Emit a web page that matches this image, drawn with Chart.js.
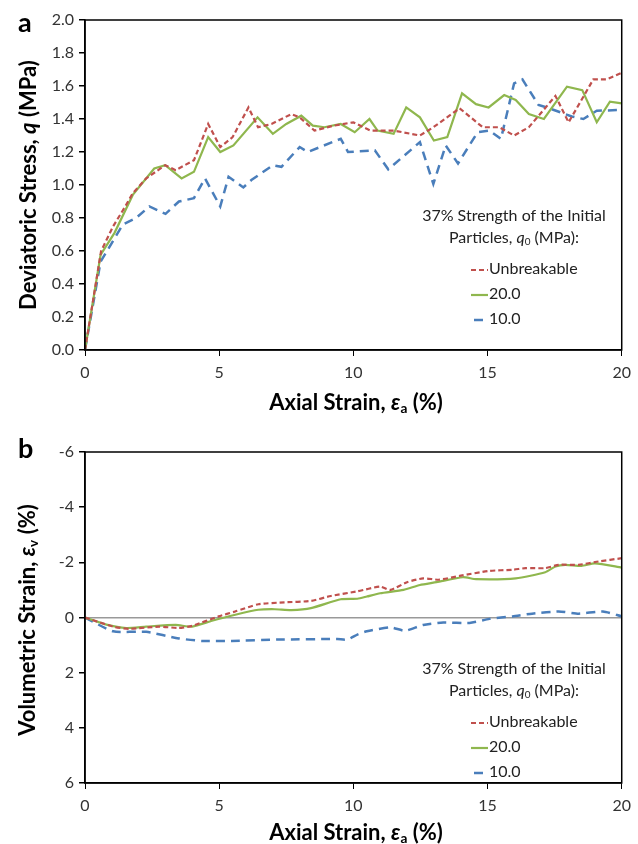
<!DOCTYPE html>
<html>
<head>
<meta charset="utf-8">
<script src="https://cdn.jsdelivr.net/npm/chart.js@4"></script>
<style>
  body { margin: 0; background: #fff; }
  #wrap { position: relative; width: 638px; height: 844px; font-family: Lato, "Open Sans", sans-serif; color: #000; }
  .box { position: absolute; left: 0; width: 638px; }
  .lbl { position: absolute; white-space: nowrap; }
  .letter { font-weight: bold; font-size: 27px; line-height: 1; }
  .xt { font-weight: bold; font-size: 22px; transform: translate(-50%, -50%); }
  .yt { font-weight: bold; font-size: 22px; transform: translate(-50%, -50%) rotate(-90deg); }
  .leg { font-size: 16px; color: #222; line-height: 1; }
  .leg .t { transform: translate(-50%, -50%); position: absolute; white-space: nowrap; }
  .leg .e { position: absolute; white-space: nowrap; transform: translateY(-50%); }
  .leg svg { vertical-align: middle; margin-right: 1px; }
  sub { font-size: 0.62em; vertical-align: -0.25em; }
</style>
</head>
<body>
<div id="wrap">
  <div class="box" style="top:0;height:420px"><canvas id="c1"></canvas></div>
  <div class="box" style="top:420px;height:424px"><canvas id="c2"></canvas></div>

  <div class="lbl letter" style="left:18px;top:8px">a</div>
  <div class="lbl letter" style="left:18px;top:434px">b</div>

  <div class="lbl yt" style="left:27px;top:185px">Deviatoric Stress, <i>q</i> (MPa)</div>
  <div class="lbl xt" style="left:356px;top:402px">Axial Strain, <i>ε</i><sub>a</sub> (%)</div>
  <div class="lbl yt" style="left:27px;top:620px">Volumetric Strain, <i>ε</i><sub>v</sub> (%)</div>
  <div class="lbl xt" style="left:356px;top:832px">Axial Strain, <i>ε</i><sub>a</sub> (%)</div>

  <div class="leg" id="leg1"></div>
  <div class="leg" id="leg2"></div>
</div>
<script>
// axial strain (%) and deviatoric stress q (MPa), panel a
const unbX = [0,0.6,1.05,1.5,1.78,2.28,2.99,3.38,4.06,4.59,5.04,5.5,6.09,6.45,6.95,7.69,8.0,8.55,9.28,10.0,10.64,11.5,12.48,12.98,13.96,14.82,15.44,15.99,16.54,17.53,18.02,18.5,18.94,19.43,20.0];
const unbQ = [0,0.6,0.75,0.87,0.95,1.04,1.12,1.09,1.15,1.37,1.23,1.29,1.47,1.35,1.37,1.43,1.41,1.33,1.36,1.38,1.33,1.33,1.30,1.35,1.465,1.35,1.35,1.30,1.35,1.54,1.38,1.515,1.64,1.64,1.68];

const q20X = [0,0.58,1.1,1.78,2.58,2.99,3.6,4.06,4.59,5.04,5.53,6.43,7.0,7.5,8.06,8.49,8.92,9.53,10.05,10.6,10.9,11.5,11.97,12.48,13.0,13.5,14.05,14.57,15.04,15.62,16.05,16.54,17.1,17.96,18.53,19.07,19.56,20.0];
const q20Q = [0,0.576,0.71,0.94,1.10,1.12,1.04,1.08,1.29,1.20,1.24,1.41,1.31,1.37,1.42,1.36,1.35,1.37,1.32,1.40,1.33,1.31,1.47,1.41,1.27,1.29,1.555,1.49,1.47,1.545,1.515,1.43,1.40,1.596,1.575,1.38,1.505,1.495];

const q10X = [0,0.58,1.41,1.9,2.4,3.0,3.5,4.06,4.47,5.04,5.35,5.9,6.2,7.0,7.32,8.0,8.3,9.53,9.8,10.8,11.3,12.48,12.98,13.44,13.9,14.63,15.07,15.5,15.99,16.3,16.9,17.3,18.14,18.57,19.07,20.0];
const q10Q = [0,0.535,0.76,0.80,0.87,0.825,0.90,0.92,1.04,0.87,1.05,0.985,1.03,1.12,1.11,1.23,1.20,1.28,1.20,1.21,1.095,1.26,1.006,1.24,1.13,1.32,1.33,1.28,1.616,1.64,1.485,1.465,1.415,1.40,1.45,1.455];

// volumetric strain (%), panel b
const unbVX = [0,1.05,1.66,2.77,3.5,4.0,4.98,5.6,6.46,7.44,8.42,9.16,10.15,11.0,11.38,12.0,12.6,13.2,13.96,15.07,15.93,16.42,17.15,17.65,18.4,19.13,20.0];
const unbEv = [0,0.33,0.41,0.33,0.38,0.3,-0.04,-0.22,-0.48,-0.55,-0.6,-0.78,-0.95,-1.12,-1.0,-1.28,-1.42,-1.37,-1.51,-1.69,-1.73,-1.79,-1.79,-1.91,-1.91,-2.03,-2.15];

const v20X = [0,0.8,1.54,2.28,3.38,4.0,4.73,5.6,6.46,7.07,7.69,8.42,9.53,10.15,10.5,11.0,11.87,12.48,13.1,14.08,14.57,16.05,17.15,17.53,17.9,18.5,19.0,20.0];
const v20Ev = [0,0.26,0.38,0.33,0.27,0.33,0.12,-0.1,-0.28,-0.3,-0.27,-0.34,-0.66,-0.68,-0.76,-0.88,-1.0,-1.18,-1.28,-1.46,-1.39,-1.42,-1.64,-1.85,-1.91,-1.87,-1.96,-1.81];

const v10X = [0,1.05,2.28,3.5,4.37,5.47,7.2,9.4,9.78,10.15,10.5,11.38,11.93,12.6,13.35,14.33,15.07,15.93,16.66,17.65,18.4,19.3,20.0];
const v10Ev = [0,0.5,0.52,0.76,0.85,0.85,0.8,0.78,0.8,0.62,0.5,0.36,0.48,0.27,0.18,0.2,0.05,-0.04,-0.14,-0.22,-0.14,-0.22,-0.04];

const seriesNames = ['Unbreakable', '20.0', '10.0'];
const xTicks = [0, 5, 10, 15, 20];
const qTicks = [0, 0.2, 0.4, 0.6, 0.8, 1.0, 1.2, 1.4, 1.6, 1.8, 2.0];
const evTicks = [-6, -4, -2, 0, 2, 4, 6];

const colors = ['#c0504d', '#8fb74e', '#4a7ebb'];
const dashes = [[5, 3], [], [9, 6]];
const widths = [2.2, 2.2, 2.5];
const FONT = 'Lato, "Open Sans", sans-serif';

const pts = (xs, ys) => xs.map((x, i) => ({ x: x, y: ys[i] }));

const mkSet = (i, xs, ys, tension) => ({
  label: seriesNames[i],
  data: pts(xs, ys),
  showLine: true,
  borderColor: colors[i],
  backgroundColor: colors[i],
  borderDash: dashes[i],
  borderWidth: widths[i],
  pointRadius: 0,
  tension: tension
});

// black frame round the plot area
const frame = {
  id: 'frame',
  afterDraw(chart) {
    const a = chart.chartArea, c = chart.ctx;
    c.save();
    c.strokeStyle = '#000';
    c.lineWidth = 1.5;
    c.strokeRect(a.left, a.top, a.right - a.left, a.bottom - a.top);
    c.restore();
  }
};

const makeChart = (id, sets, yTicks, yFmt, reverse, padTop, xH, zeroLine) => new Chart(document.getElementById(id), {
  type: 'scatter',
  data: { datasets: sets },
  options: {
    responsive: true,
    maintainAspectRatio: false,
    animation: false,
    layout: { padding: { top: padTop, right: 11, left: 0, bottom: 0 } },
    plugins: { legend: { display: false }, tooltip: { enabled: false } },
    scales: {
      x: {
        type: 'linear', min: 0, max: 20,
        afterBuildTicks: s => { s.ticks = xTicks.map(v => ({ value: v })); },
        afterFit: s => { s.height = xH; },
        grid: { drawOnChartArea: false, tickLength: 6, tickColor: '#000' },
        border: { color: '#000', width: 1.5 },
        ticks: { color: '#333', font: { family: FONT, size: 16 }, padding: 7, maxRotation: 0 }
      },
      y: {
        type: 'linear', min: yTicks[0], max: yTicks[yTicks.length - 1], reverse: reverse,
        afterBuildTicks: s => { s.ticks = yTicks.map(v => ({ value: v })); },
        afterFit: s => { s.width = 85; },
        grid: {
          drawOnChartArea: zeroLine,
          color: c => (c.tick && c.tick.value === 0) ? '#999' : 'rgba(0,0,0,0)',
          lineWidth: 1.5,
          tickLength: 6, tickColor: '#000'
        },
        border: { color: '#000', width: 1.5 },
        ticks: { color: '#333', font: { family: FONT, size: 16 }, padding: 5, callback: yFmt }
      }
    }
  },
  plugins: [frame]
});

makeChart('c1', [
  mkSet(0, unbX, unbQ, 0),
  mkSet(1, q20X, q20Q, 0),
  mkSet(2, q10X, q10Q, 0)
], qTicks, v => v.toFixed(1), false, 20, 70, false);

makeChart('c2', [
  mkSet(0, unbVX, unbEv, 0.2),
  mkSet(1, v20X, v20Ev, 0.2),
  mkSet(2, v10X, v10Ev, 0.2)
], evTicks, v => String(v), true, 32, 61, true);

// legends inside the plot areas
const buildLegend = (el, top) => {
  let h = '';
  h += '<div class="t" style="left:514px;top:' + top + 'px">37% Strength of the Initial</div>';
  h += '<div class="t" style="left:514px;top:' + (top + 23) + 'px">Particles, <i>q</i><sub>0</sub> (MPa):</div>';
  seriesNames.forEach((n, i) => {
    const y = top + 53 + i * 25;
    const da = dashes[i].length ? ' stroke-dasharray="' + dashes[i].join(' ') + '"' : '';
    const off = i === 2 ? ' stroke-dashoffset="-3"' : '';
    h += '<div class="e" style="left:471px;top:' + y + 'px">' +
      '<svg width="17" height="6"><line x1="0" y1="3" x2="17" y2="3" stroke="' + colors[i] +
      '" stroke-width="' + widths[i] + '"' + da + off + '/></svg>' + n + '</div>';
  });
  el.innerHTML = h;
};
buildLegend(document.getElementById('leg1'), 215);
buildLegend(document.getElementById('leg2'), 668);
</script>
</body>
</html>
